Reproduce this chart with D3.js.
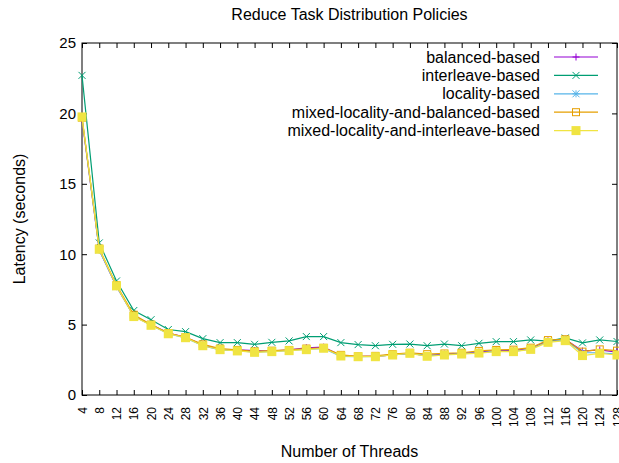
<!DOCTYPE html>
<html>
<head>
<meta charset="utf-8">
<script src="https://cdn.jsdelivr.net/npm/d3@7"></script>
<style>
  body { margin: 0; background: #fff; }
  svg { font-family: "Liberation Sans", Arial, sans-serif; }
</style>
</head>
<body>
<div id="chart"></div>
<script>
// Données
const threads = [4, 8, 12, 16, 20, 24, 28, 32, 36, 40, 44, 48, 52, 56, 60, 64,
                 68, 72, 76, 80, 84, 88, 92, 96, 100, 104, 108, 112, 116, 120, 124, 128];
const xTicks = threads;
const yTicks = [0, 5, 10, 15, 20, 25];

const balanced = [19.6, 10.3, 7.7, 5.6, 5.0, 4.4, 4.1, 3.55, 3.25, 3.2, 3.15, 3.12, 3.2, 3.35, 3.4, 2.8,
                  2.75, 2.75, 2.85, 2.95, 2.8, 2.9, 2.95, 3.05, 3.15, 3.15, 3.3, 3.85, 3.95, 3.12, 3.2, 3.05];
const interleave = [22.7, 10.8, 8.1, 6.0, 5.35, 4.65, 4.5, 4.0, 3.72, 3.72, 3.6, 3.74, 3.84, 4.15, 4.15, 3.72,
                    3.58, 3.5, 3.6, 3.62, 3.5, 3.62, 3.5, 3.67, 3.79, 3.79, 3.91, 3.82, 4.05, 3.7, 3.91, 3.8];
const locality = [19.7, 10.3, 7.7, 5.6, 4.95, 4.35, 4.05, 3.5, 3.2, 3.15, 3.05, 3.1, 3.15, 3.25, 3.3, 2.75,
                  2.72, 2.75, 2.85, 2.95, 2.8, 2.85, 2.95, 3.0, 3.1, 3.1, 3.25, 3.8, 3.9, 3.0, 3.0, 2.9];
const mixedBalanced = [19.7, 10.4, 7.8, 5.7, 5.0, 4.4, 4.1, 3.6, 3.3, 3.2, 3.1, 3.15, 3.2, 3.3, 3.35, 2.85,
                       2.75, 2.78, 2.9, 3.0, 2.9, 2.95, 3.0, 3.13, 3.2, 3.22, 3.36, 3.9, 3.96, 3.08, 3.24, 3.15];
const mixedInterleave = [19.75, 10.35, 7.75, 5.57, 4.95, 4.35, 4.07, 3.5, 3.22, 3.13, 3.03, 3.08, 3.15, 3.22, 3.32, 2.77,
                         2.72, 2.72, 2.84, 2.96, 2.75, 2.84, 2.91, 2.98, 3.08, 3.08, 3.24, 3.74, 3.86, 2.8, 2.96, 2.84];

const seriesNames = ["balanced-based", "interleave-based", "locality-based",
                     "mixed-locality-and-balanced-based", "mixed-locality-and-interleave-based"];
const seriesValues = [balanced, interleave, locality, mixedBalanced, mixedInterleave];

document.addEventListener("DOMContentLoaded", () => {
    const width = 619;
    const height = 463;
    const margin = { top: 43, right: 2, bottom: 68, left: 82 };

    const colors = ["#9400d3", "#009e73", "#56b4e9", "#e69f00", "#f0e442"];
    const markers = ["plus", "cross", "star", "box", "fbox"];

    const svg = d3.select("#chart")
        .append("svg")
        .attr("width", width)
        .attr("height", height);

    const x = d3.scaleLinear()
        .domain([4, 128])
        .range([margin.left, width - margin.right]);

    const y = d3.scaleLinear()
        .domain([0, 25])
        .range([height - margin.bottom, margin.top]);

    // Axes (ticks vers l'intérieur, en miroir)
    const xAxis = svg.append("g")
        .attr("transform", `translate(0,${height - margin.bottom})`)
        .call(d3.axisBottom(x).tickValues(xTicks).tickSize(-5).tickPadding(12));
    xAxis.selectAll("text")
        .attr("transform", "rotate(-90)")
        .attr("text-anchor", "end")
        .attr("x", -12)
        .attr("y", 0)
        .attr("dy", "0.35em")
        .style("font-size", "12px");

    svg.append("g")
        .attr("transform", `translate(0,${margin.top})`)
        .call(d3.axisTop(x).tickValues(xTicks).tickSize(-5).tickFormat(""));

    svg.append("g")
        .attr("transform", `translate(${margin.left},0)`)
        .call(d3.axisLeft(y).tickValues(yTicks).tickSize(-5).tickPadding(6))
        .selectAll("text")
        .style("font-size", "15px");

    svg.append("g")
        .attr("transform", `translate(${width - margin.right},0)`)
        .call(d3.axisRight(y).tickValues(yTicks).tickSize(-5).tickFormat(""));

    svg.selectAll(".domain").remove();
    svg.selectAll(".tick line").attr("stroke", "#000");
    svg.selectAll(".tick text").attr("fill", "#000");

    // Cadre
    svg.append("rect")
        .attr("x", margin.left)
        .attr("y", margin.top)
        .attr("width", width - margin.left - margin.right)
        .attr("height", height - margin.top - margin.bottom)
        .attr("fill", "none")
        .attr("stroke", "#000");

    // Symboles façon gnuplot
    function drawMarker(g, type, color, cx, cy) {
        const s = 3.5;
        if (type === "plus" || type === "star") {
            g.append("path").attr("d", `M${cx - s},${cy}H${cx + s}M${cx},${cy - s}V${cy + s}`)
                .attr("stroke", color).attr("fill", "none");
        }
        if (type === "cross" || type === "star") {
            g.append("path").attr("d", `M${cx - s},${cy - s}L${cx + s},${cy + s}M${cx - s},${cy + s}L${cx + s},${cy - s}`)
                .attr("stroke", color).attr("fill", "none");
        }
        if (type === "box") {
            g.append("rect").attr("x", cx - s).attr("y", cy - s).attr("width", 2 * s).attr("height", 2 * s)
                .attr("stroke", color).attr("fill", "none");
        }
        if (type === "fbox") {
            g.append("rect").attr("x", cx - 4.5).attr("y", cy - 4.5).attr("width", 9).attr("height", 9)
                .attr("fill", color);
        }
    }

    const line = d3.line()
        .x((d, i) => x(threads[i]))
        .y(d => y(d));

    seriesValues.forEach((values, k) => {
        const g = svg.append("g");
        g.append("path")
            .datum(values)
            .attr("d", line)
            .attr("fill", "none")
            .attr("stroke", colors[k])
            .attr("stroke-width", 1.2);
        values.forEach((v, i) => drawMarker(g, markers[k], colors[k], x(threads[i]), y(v)));
    });

    // Légende
    const legend = svg.append("g");
    seriesNames.forEach((name, k) => {
        const ly = 57 + k * 18.4;
        legend.append("text")
            .attr("x", 540)
            .attr("y", ly)
            .attr("dy", "0.35em")
            .attr("text-anchor", "end")
            .style("font-size", "16px")
            .text(name);
        legend.append("line")
            .attr("x1", 554).attr("x2", 598)
            .attr("y1", ly).attr("y2", ly)
            .attr("stroke", colors[k])
            .attr("stroke-width", 1.2);
        drawMarker(legend, markers[k], colors[k], 576, ly);
    });

    // Titres
    svg.append("text")
        .attr("x", (margin.left + width - margin.right) / 2)
        .attr("y", 20)
        .attr("text-anchor", "middle")
        .style("font-size", "16px")
        .text("Reduce Task Distribution Policies");

    svg.append("text")
        .attr("x", (margin.left + width - margin.right) / 2)
        .attr("y", 457)
        .attr("text-anchor", "middle")
        .style("font-size", "16px")
        .text("Number of Threads");

    svg.append("text")
        .attr("transform", "rotate(-90)")
        .attr("x", -(margin.top + height - margin.bottom) / 2)
        .attr("y", 25)
        .attr("text-anchor", "middle")
        .style("font-size", "16px")
        .text("Latency (seconds)");
});
</script>
</body>
</html>
